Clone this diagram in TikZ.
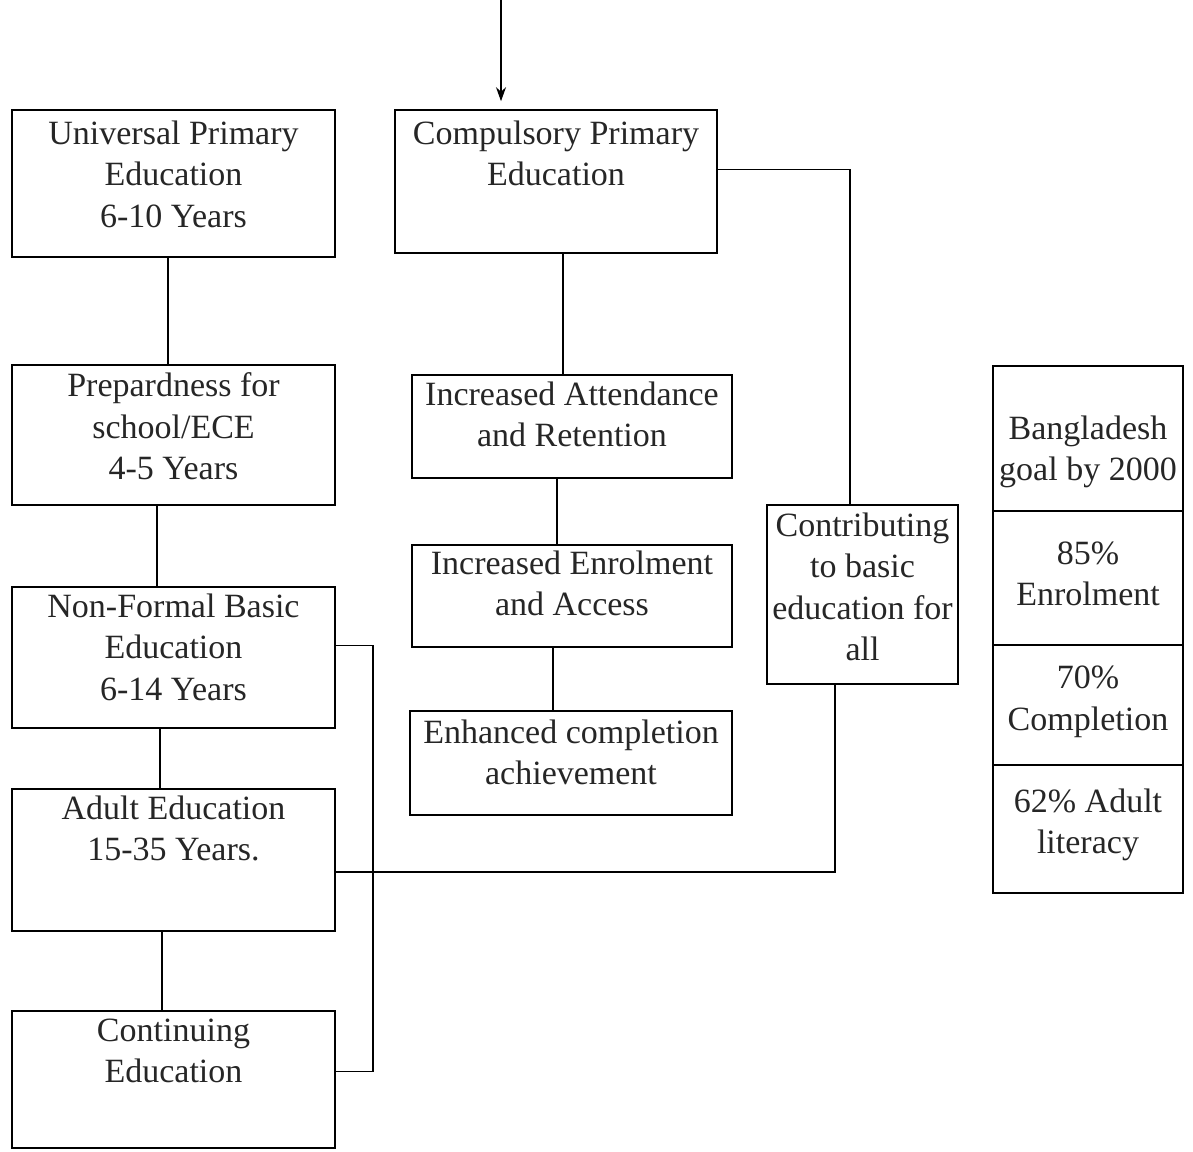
\documentclass[tikz,border=0pt]{standalone}
\usepackage{fontspec}
\setmainfont{Liberation Serif}
\usetikzlibrary{positioning,fit,arrows.meta}

\tikzset{
  box/.style={draw, line width=0.8pt, inner sep=0pt},
  txt/.style={align=center, inner sep=0pt, text=black!85,
    font=\fontsize{17}{20.75}\selectfont},
  link/.style={draw, line width=0.8pt},
}

\begin{document}
\begin{tikzpicture}[x=0.5pt,y=-0.5pt]
\useasboundingbox (0,0) rectangle (1193,1151);
% left column
\node (upe) [box, fit={(12,110) (335,257)}] {};
\node (upe-t) [txt, below=5.5pt of upe.north] {Universal Primary\\Education\\6-10 Years};
\node (prep) [box, fit={(12,365) (335,505)}] {};
\node (prep-t) [txt, below=4pt of prep.north] {Prepardness for\\school/ECE\\4-5 Years};
\node (nfbe) [box, fit={(12,587) (335,728)}] {};
\node (nfbe-t) [txt, below=3.5pt of nfbe.north] {Non-Formal Basic\\Education\\6-14 Years};
\node (adult) [box, fit={(12,789) (335,931)}] {};
\node (adult-t) [txt, below=3.5pt of adult.north] {Adult Education\\15-35 Years.};
\node (cont) [box, fit={(12,1011) (335,1148)}] {};
\node (cont-t) [txt, below=4pt of cont.north] {Continuing\\Education};
% middle column
\node (cpe) [box, fit={(395,110) (717,253)}] {};
\node (cpe-t) [txt, below=5.5pt of cpe.north] {Compulsory Primary\\Education};
\node (iar) [box, fit={(412,375) (732,478)}] {};
\node (iar-t) [txt, below=3.5pt of iar.north] {Increased Attendance\\and Retention};
\node (iea) [box, fit={(412,545) (732,647)}] {};
\node (iea-t) [txt, below=3pt of iea.north] {Increased Enrolment\\and Access};
\node (eca) [box, fit={(410,711) (732,815)}] {};
\node (eca-t) [txt, below=4.5pt of eca.north] {Enhanced completion\\achievement};
\node (contr) [box, fit={(767,505) (958,684)}] {};
\node (contr-t) [txt, below=4pt of contr.north] {Contributing\\to basic\\education for\\all};
% goals table
\node (goal) [box, fit={(993,366) (1183,511)}] {};
\node (goal-t) [txt] at (1088,452) {Bangladesh\\goal by 2000};
\node (enr) [box, fit={(993,511) (1183,645)}] {};
\node (enr-t) [txt] at (1088,574) {85\%\\Enrolment};
\node (cmp) [box, fit={(993,645) (1183,765)}] {};
\node (cmp-t) [txt] at (1088,702) {70\%\\Completion};
\node (lit) [box, fit={(993,765) (1183,893)}] {};
\node (lit-t) [txt] at (1088,825) {62\% Adult\\literacy};

\coordinate (src) at (501,0);
\draw [link, -{Stealth[length=7pt,width=5pt]}, shorten >=4pt] (src) -- (src |- cpe.north);
\draw [link] ([xshift=-2.75pt]upe.south) -- ([xshift=-2.75pt]prep.north);
\draw [link] ([xshift=-8.25pt]prep.south) -- ([xshift=-8.25pt]nfbe.north);
\draw [link] ([xshift=-6.75pt]nfbe.south) -- ([xshift=-6.75pt]adult.north);
\draw [link] ([xshift=-5.75pt]adult.south) -- ([xshift=-5.75pt]cont.north);
\draw [link] ([xshift=3.5pt]cpe.south) -- ([xshift=-4.5pt]iar.north);
\draw [link] ([xshift=-7.5pt]iar.south) -- ([xshift=-7.5pt]iea.north);
\draw [link] ([xshift=-9.5pt]iea.south) -- ([xshift=-9pt]eca.north);
\draw [link] ([yshift=6pt]cpe.east) -| ([xshift=-6.25pt]contr.north);
\draw [link] ([xshift=-13.75pt]contr.south) |- ([yshift=-6pt]adult.east);
\draw [link] ([yshift=6pt]nfbe.east) -- ++(18.5pt,0) |- ([yshift=4pt]cont.east);
\end{tikzpicture}
\end{document}
